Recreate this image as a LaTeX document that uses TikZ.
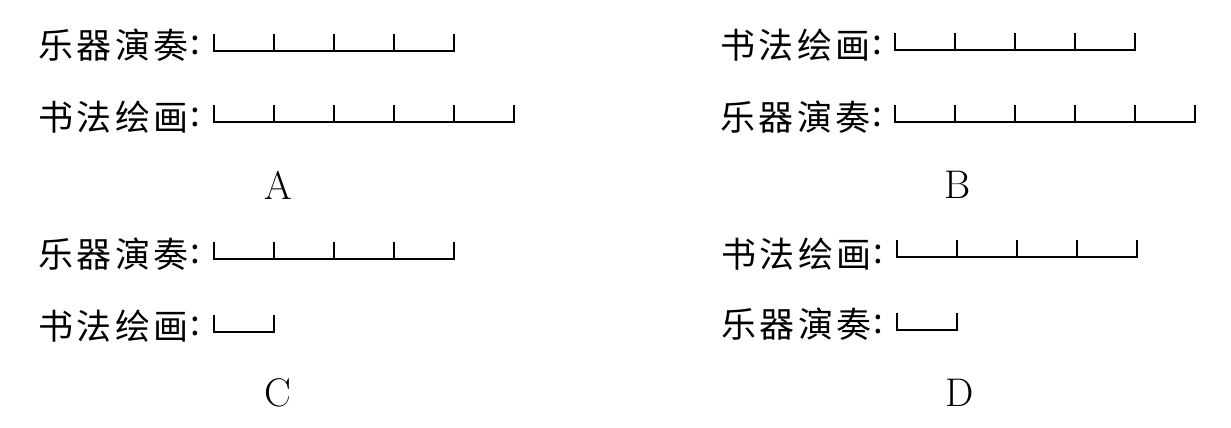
\documentclass[tikz,border=0pt]{standalone}
\usepackage{fontspec}
\newfontfamily\cjk[LetterSpace=10]{Noto Sans CJK SC}
\newfontfamily\cjkplain{Noto Sans CJK SC}
\begin{document}
\begin{tikzpicture}[x=1pt,y=-1pt,
  lbl/.style={anchor=west,inner sep=0pt,font=\cjk\fontsize{35}{35}\selectfont},
  colon/.style={inner sep=0pt,font=\cjkplain\fontsize{35}{35}\selectfont},
  opt/.style={inner sep=0pt,font=\fontsize{40}{40}\selectfont},
  barline/.style={line width=1.8pt,line cap=butt,line join=miter}]
\useasboundingbox (0,0) rectangle (1231,428);
\newcommand{\segbar}[3]{% x0, ybottom, n segments
  \draw[barline] (#1,#2-17) -- (#1,#2) -- ({#1+60*#3},#2) -- ({#1+60*#3},#2-17);
  \foreach \k in {1,...,#3}{ \ifnum\k<#3 \draw[barline] ({#1+60*\k},#2) -- ({#1+60*\k},#2-17);\fi }
}
% A
\node[lbl] (a1) at (38,45) {乐器演奏};
\node[colon] (a1c) at (195,45) {:};
\node[lbl] (a2) at (38,117) {书法绘画};
\node[colon] (a2c) at (195,117) {:};
\segbar{214}{51}{4}
\segbar{214}{122}{5}
\node[opt] (A) at (278,185) {A};
% B
\node[lbl] (b1) at (720,45) {书法绘画};
\node[colon] (b1c) at (877,45) {:};
\node[lbl] (b2) at (720,117) {乐器演奏};
\node[colon] (b2c) at (877,117) {:};
\segbar{895}{50}{4}
\segbar{895}{122}{5}
\node[opt] (B) at (958,185) {B};
% C
\node[lbl] (c1) at (38,254) {乐器演奏};
\node[colon] (c1c) at (195,254) {:};
\node[lbl] (c2) at (38,326) {书法绘画};
\node[colon] (c2c) at (195,326) {:};
\segbar{214}{259}{4}
\segbar{214}{332}{1}
\node[opt] (C) at (278,393) {C};
% D
\node[lbl] (d1) at (721,254) {书法绘画};
\node[colon] (d1c) at (878,254) {:};
\node[lbl] (d2) at (721,324) {乐器演奏};
\node[colon] (d2c) at (878,324) {:};
\segbar{897}{257}{4}
\segbar{897}{330}{1}
\node[opt] (D) at (960,393) {D};
\end{tikzpicture}
\end{document}
